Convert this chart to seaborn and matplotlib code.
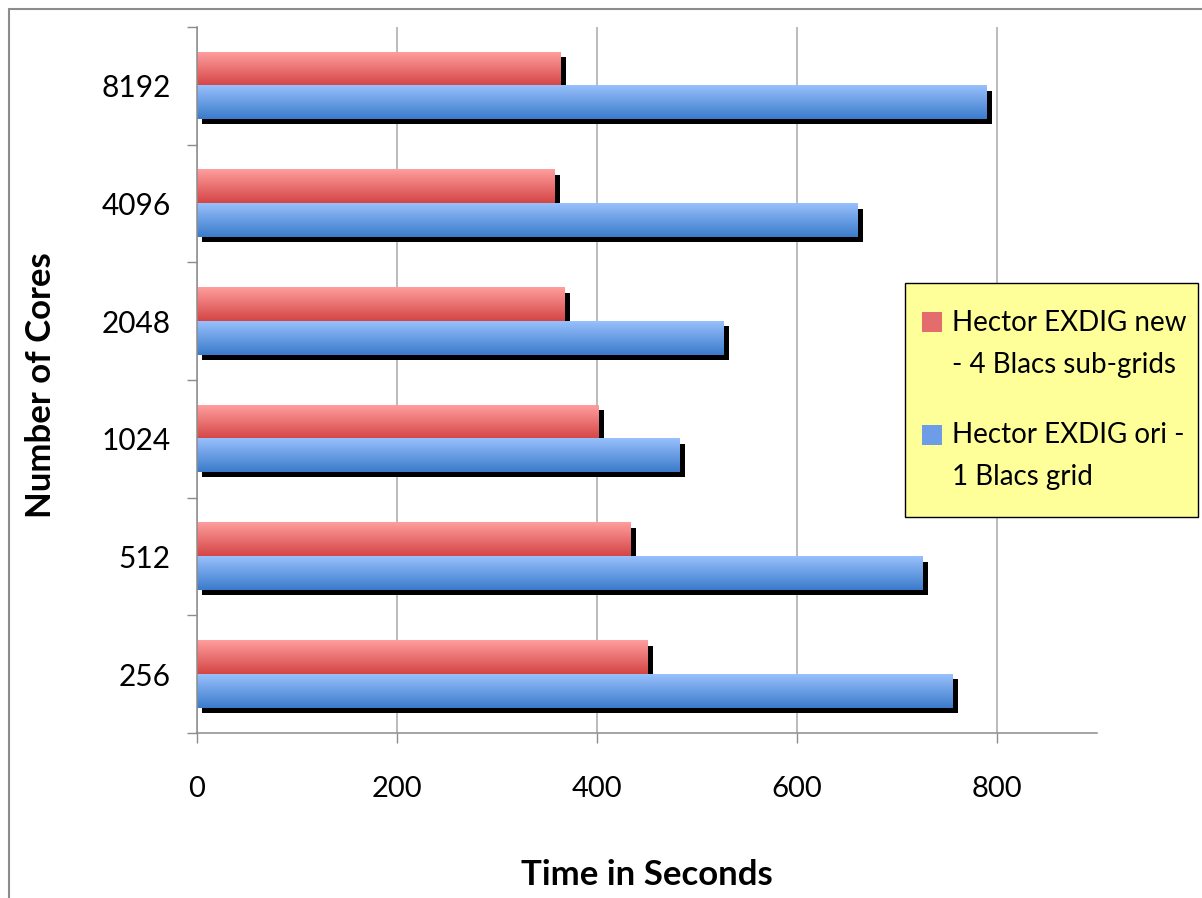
import numpy as np
import pandas as pd
import matplotlib
matplotlib.use("Agg")
import matplotlib.pyplot as plt
import matplotlib.patheffects as pe
import seaborn as sns
from matplotlib.colors import LinearSegmentedColormap
from matplotlib.patches import Patch, Rectangle
from matplotlib.lines import Line2D
from matplotlib.legend_handler import HandlerPatch

# Run times (seconds) per core count, listed top to bottom
cores = ["8192", "4096", "2048", "1024", "512", "256"]
new_times = [364, 358, 368, 402, 434, 451]
ori_times = [790, 661, 527, 483, 726, 756]
series = ["Hector EXDIG new\n- 4 Blacs sub-grids", "Hector EXDIG ori -\n1 Blacs grid"]
x_ticks = [0, 200, 400, 600, 800]

df = pd.DataFrame({
    "cores": cores * 2,
    "time": new_times + ori_times,
    "series": [series[0]] * len(cores) + [series[1]] * len(cores),
})

sns.set_style("white")
plt.rcParams["font.family"] = ["Lato", "DejaVu Sans"]
plt.rcParams["text.color"] = "black"
plt.rcParams["axes.labelcolor"] = "black"

W, H = 1202, 898
fig = plt.figure(figsize=(W / 100, H / 100), dpi=100)
ax = fig.add_axes([197 / W, 165 / H, 900 / W, 706 / H])

solid = {series[0]: "#E46C6C", series[1]: "#6C9DE6"}
sns.barplot(data=df, y="cores", x="time", hue="series", order=cores,
            hue_order=series, palette=solid, orient="h", width=0.57,
            saturation=1, linewidth=0, legend=False, ax=ax)

# Vertical gradient fill and drop shadow on every bar
cmaps = [LinearSegmentedColormap.from_list("red_grad", ["#FF9E9E", "#D44545"]),
         LinearSegmentedColormap.from_list("blue_grad", ["#98C0FC", "#3B7BCB"])]
grad = np.linspace(0, 1, 128).reshape(-1, 1)
for cont, cmap in zip(ax.containers, cmaps):
    for bar in cont:
        x0, y0 = bar.get_x(), bar.get_y()
        w, h = bar.get_width(), bar.get_height()
        bar.set_path_effects([
            pe.SimplePatchShadow(offset=(3.6, -3.6), shadow_rgbFace="black", alpha=1.0),
            pe.Normal(),
        ])
        ax.imshow(grad, cmap=cmap, extent=(x0, x0 + w, y0 + h, y0),
                  origin="upper", aspect="auto", interpolation="bilinear",
                  zorder=bar.get_zorder() + 0.5)

ax.set_xlim(0, 900)
ax.set_ylim(len(cores) - 0.5, -0.5)
ax.set_xticks(x_ticks)

ax.set_axisbelow(True)
ax.xaxis.grid(True, color="#A8A8A8", lw=1.1)
ax.yaxis.grid(False)
for side in ("top", "right"):
    ax.spines[side].set_visible(False)
for side in ("left", "bottom"):
    ax.spines[side].set_color("#8C8C8C")
    ax.spines[side].set_linewidth(1.1)

ax.tick_params(axis="x", bottom=True, length=7, width=1, color="#8C8C8C",
               direction="out", pad=24, labelsize=21, labelcolor="black")
ax.set_yticks(np.arange(-0.5, len(cores), 1), minor=True)
ax.tick_params(axis="y", which="major", left=True, length=0, pad=19,
               labelsize=21.5, labelcolor="black")
ax.tick_params(axis="y", which="minor", left=True, length=7, width=1,
               color="#8C8C8C", direction="out")

ax.set_xlabel("Time in Seconds", fontsize=25, fontweight="bold", color="black")
ax.xaxis.set_label_coords(0.5, -0.178)
ax.set_ylabel("Number of Cores", fontsize=25, fontweight="bold", color="black")
ax.yaxis.set_label_coords(-0.156, 0.493)


def square_on_first_line(legend, orig_handle, xdescent, ydescent, width, height, fontsize):
    # square legend key raised beside the first line of a two-line label
    shift = 0.8 * fontsize
    return Rectangle((-xdescent, -ydescent + shift), width, width)


# Legend box in figure pixels
box_left, box_top, box_right, box_bottom = 905, 283, 1198, 517
ax.add_artist(Rectangle((box_left / W, 1 - box_bottom / H),
                        (box_right - box_left) / W, (box_bottom - box_top) / H,
                        transform=fig.transFigure, facecolor="#FFFF99",
                        edgecolor="black", lw=1.0, zorder=4.9, clip_on=False))

handles = [Patch(facecolor=solid[s], edgecolor="none") for s in series]
leg = ax.legend(handles, series, loc="upper left",
                bbox_to_anchor=(922 / W, 1 - 310 / H), bbox_transform=fig.transFigure,
                frameon=False, fontsize=20, handlelength=0.72, handleheight=0.72,
                handletextpad=0.36, labelspacing=1.6, borderpad=0, borderaxespad=0,
                handler_map={Patch: HandlerPatch(patch_func=square_on_first_line)})
for t in leg.get_texts():
    t.set_linespacing(1.75)
    t.set_color("black")

# Outer chart-area border (left and top edges)
fig.add_artist(Line2D([9 / W, 9 / W], [0, 889 / H], transform=fig.transFigure,
                      color="#8C8C8C", lw=1.5))
fig.add_artist(Line2D([9 / W, 1], [889 / H, 889 / H], transform=fig.transFigure,
                      color="#8C8C8C", lw=1.5))

fig.savefig("out.png", dpi=100)
